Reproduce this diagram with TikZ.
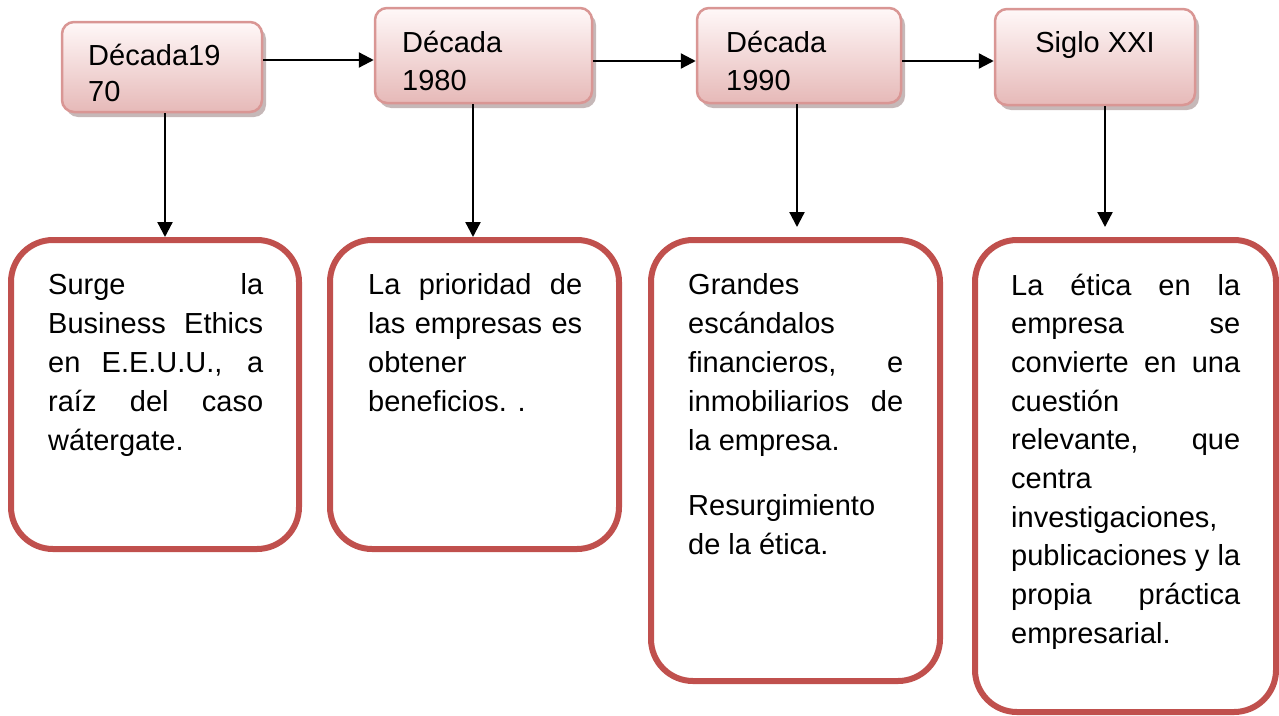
\documentclass[tikz,border=0pt]{standalone}
\usepackage{fontspec}
\setmainfont{Liberation Sans}
\usetikzlibrary{arrows.meta,shadows}
\definecolor{boxred}{HTML}{C0504D}
\definecolor{topborder}{HTML}{D99694}
\definecolor{toptop}{HTML}{FFF8F8}
\definecolor{topbot}{HTML}{E6B9B8}
\definecolor{shadowc}{HTML}{A08888}
\newcommand\jline[1]{\makebox[\linewidth][s]{#1}\par}
\newcommand\lline[1]{#1\par}
\newcommand\bodyfont{\fontsize{29}{39}\selectfont}
\begin{document}
\begin{tikzpicture}[x=1pt,y=-1pt,
  topbox/.style={draw=topborder, line width=2.5pt, rounded corners=12pt,
    top color=toptop, bottom color=topbot, inner sep=0pt,
    drop shadow={shadow xshift=4pt, shadow yshift=-5pt, fill=shadowc, opacity=0.6}},
  botbox/.style={draw=boxred, line width=6pt, rounded corners=42pt, fill=white, inner sep=0pt},
  txt/.style={anchor=base west, inner sep=0pt, font=\bodyfont},
  arr/.style={draw=black, line width=2.3pt, -{Triangle[length=15pt,width=15pt]}}]
\useasboundingbox (0,0) rectangle (1279,715);
% top boxes
\node[topbox, minimum width=200pt, minimum height=90pt] (t1) at (162,67) {};
\node[topbox, minimum width=217pt, minimum height=95pt] (t2) at (483.5,55.5) {};
\node[topbox, minimum width=204pt, minimum height=95pt] (t3) at (799,55.5) {};
\node[topbox, minimum width=200pt, minimum height=96pt] (t4) at (1095,57) {};
\node[txt] (t1a) at (88,65) {Década19};
\node[txt] (t1b) at (88,101.5) {70};
\node[txt] (t2a) at (402,52) {Década};
\node[txt] (t2b) at (402,90) {1980};
\node[txt] (t3a) at (726,52) {Década};
\node[txt] (t3b) at (726,90) {1990};
\node[anchor=base, inner sep=0pt, font=\bodyfont] (t4a) at (1095,52) {Siglo XXI};
% bottom boxes
\node[botbox, minimum width=288pt, minimum height=309pt] (b1) at (155,394.5) {};
\node[botbox, minimum width=289pt, minimum height=309pt] (b2) at (474.5,394.5) {};
\node[botbox, minimum width=289pt, minimum height=441pt] (b3) at (795.5,460.5) {};
\node[botbox, minimum width=301pt, minimum height=472pt] (b4) at (1125.5,476) {};
\node[txt] (b1t) at (48,294) {\begin{minipage}[t]{215pt}\bodyfont
\jline{Surge la}
\jline{Business Ethics}
\jline{en E.E.U.U., a}
\jline{raíz del caso}
\lline{wátergate.}
\end{minipage}};
\node[txt] (b2t) at (368,294) {\begin{minipage}[t]{214pt}\bodyfont
\jline{La prioridad de}
\jline{las empresas es}
\lline{obtener}
\lline{beneficios. .}
\end{minipage}};
\node[txt] (b3t) at (688,294) {\begin{minipage}[t]{215pt}\bodyfont
\lline{Grandes}
\lline{escándalos}
\jline{financieros, e}
\jline{inmobiliarios de}
\lline{la empresa.}
\vspace{26pt}
\lline{Resurgimiento}
\lline{de la ética.}
\end{minipage}};
\node[txt] (b4t) at (1011,295) {\begin{minipage}[t]{229pt}\fontsize{29}{38.67}\selectfont
\jline{La ética en la}
\jline{empresa se}
\jline{convierte en una}
\lline{cuestión}
\jline{relevante, que}
\lline{centra}
\lline{investigaciones,}
\jline{publicaciones y la}
\jline{propia práctica}
\lline{empresarial.}
\end{minipage}};
% connectors
\coordinate (h1) at (0,60);
\coordinate (h2) at (0,61);
\coordinate (h3) at (0,61);
\draw[arr] (t1.east |- h1) -- (t2.west |- h1);
\draw[arr] (t2.east |- h2) -- (t3.west |- h2);
\draw[arr] (t3.east |- h3) -- (t4.west |- h3);
\coordinate (v1) at (165,0);
\coordinate (v2) at (473,0);
\coordinate (a3) at (797,227);
\coordinate (a4) at (1105,227);
\draw[arr] (t1.south -| v1) -- (b1.north -| v1);
\draw[arr] (t2.south -| v2) -- (b2.north -| v2);
\draw[arr] (t3.south -| a3) -- (a3);
\draw[arr] (t4.south -| a4) -- (a4);
\end{tikzpicture}
\end{document}
